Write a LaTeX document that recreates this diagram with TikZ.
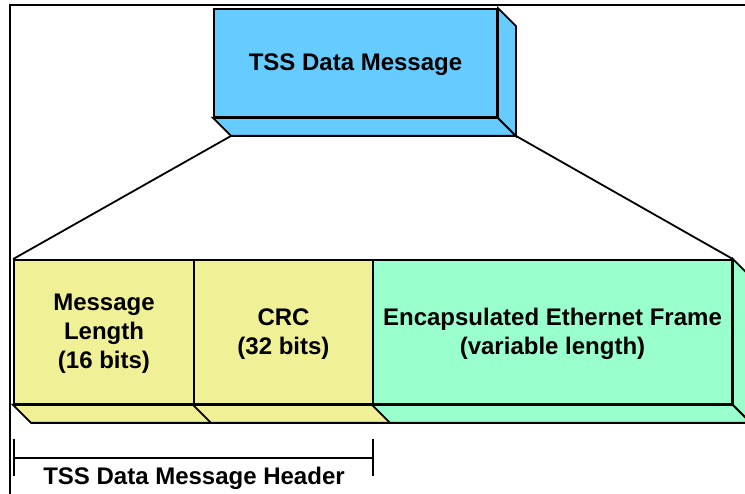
\documentclass[tikz,border=0pt]{standalone}
\usepackage{fontspec}
\setmainfont{Liberation Sans}
\usetikzlibrary{calc}
\definecolor{tssblue}{RGB}{102,204,255}
\definecolor{fldyellow}{RGB}{240,240,150}
\definecolor{fldgreen}{RGB}{153,255,204}
\tikzset{
  face/.style={draw=black, line width=1.8pt, line join=miter},
  front/.style={face, inner sep=0pt},
  txt/.style={inner sep=0pt, align=center, font=\fontsize{24}{29}\selectfont\bfseries},
  link/.style={draw=black, line width=1.8pt},
  frameline/.style={draw=black, line width=2.2pt},
}
\begin{document}
\begin{tikzpicture}[x=1pt,y=-1pt]
\useasboundingbox (0,0) rectangle (745,494);
\begin{scope}
\clip (0,0) rectangle (745,494);
% outer frame (top and left edges visible)
\draw[frameline] (10,500) -- (10,5) -- (760,5);

% top box
\node[front, fill=tssblue, minimum width=283pt, minimum height=108pt] (tss) at (355.5,63) {};
\draw[face, fill=tssblue] (tss.south west) -- ++(18,18) -- ($(tss.south east)+(18,18)$) -- (tss.south east) -- cycle;
\draw[face, fill=tssblue] (tss.north east) -- ++(18,18) -- ($(tss.south east)+(18,18)$) -- (tss.south east) -- cycle;
\node[txt] (tsst) at ($(tss.center)+(0,1.5)$) {TSS Data Message};
\coordinate (tssL) at ($(tss.south west)+(18,18)$);
\coordinate (tssR) at ($(tss.south east)+(18,18)$);

% fields
\node[front, fill=fldyellow, minimum width=180pt, minimum height=144pt] (ml) at (104,332) {};
\node[front, fill=fldyellow, minimum width=179pt, minimum height=144pt] (crc) at (283.5,332) {};
\node[front, fill=fldgreen, minimum width=359pt, minimum height=144pt] (eth) at (552.5,332) {};

\draw[face, fill=fldyellow] (ml.south west) -- ++(18,18) -- ($(ml.south east)+(18,18)$) -- (ml.south east) -- cycle;
\draw[face, fill=fldyellow] (crc.south west) -- ++(18,18) -- ($(crc.south east)+(18,18)$) -- (crc.south east) -- cycle;
\draw[face, fill=fldgreen] (eth.south west) -- ++(18,18) -- ($(eth.south east)+(18,18)$) -- (eth.south east) -- cycle;
\draw[face, fill=fldgreen] (eth.north east) -- ++(18,18) -- ($(eth.south east)+(18,18)$) -- (eth.south east) -- cycle;

\node[txt] (mlt) at ($(ml.center)+(0,2)$) {Message\\Length\\(16 bits)};
\node[txt] (crct) at ($(crc.center)+(0,2)$) {CRC\\(32 bits)};
\node[txt] (etht) at ($(eth.center)+(0,2)$) {Encapsulated Ethernet Frame\\(variable length)};

% expansion lines
\draw[link] (tssL) -- (ml.north west);
\draw[link] (tssR) -- (eth.north east);

% header bracket
\coordinate (hb1) at (14,458);
\coordinate (hb2) at (373,458);
\draw[link] (hb1) -- (hb2);
\draw[link] ($(hb1)+(0,-19)$) -- ($(hb1)+(0,18)$);
\draw[link] ($(hb2)+(0,-19)$) -- ($(hb2)+(0,18)$);
\node[txt] (hdr) at (194,478) {TSS Data Message Header};
\end{scope}
\end{tikzpicture}
\end{document}
